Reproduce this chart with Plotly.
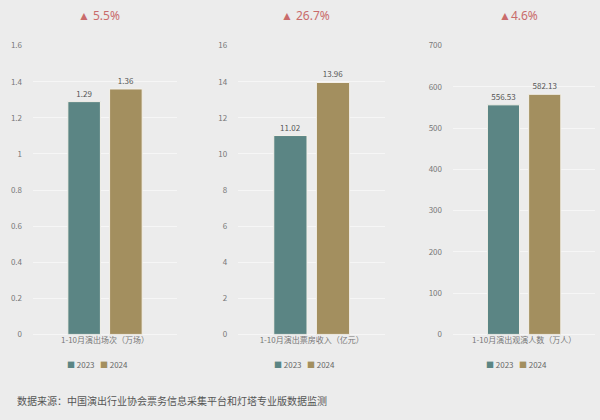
import plotly.graph_objects as go
from plotly.subplots import make_subplots

years = ["2023", "2024"]
categories = ["1-10月演出场次（万场）", "1-10月演出票房收入（亿元）", "1-10月演出观演人数（万人）"]
values_2023 = [1.29, 11.02, 556.53]
values_2024 = [1.36, 13.96, 582.13]
value_text_2023 = ["1.29", "11.02", "556.53"]
value_text_2024 = ["1.36", "13.96", "582.13"]
growth = ["▲ 5.5%", "▲ 26.7%", "▲4.6%"]
y_ranges = [[0, 1.6], [0, 16], [0, 700]]
y_dticks = [0.2, 2, 100]
source = "数据来源：中国演出行业协会票务信息采集平台和灯塔专业版数据监测"

colours = ["#5B8584", "#A38F5F"]
bg = "#ECECEC"
domains = [[0.055, 0.295], [0.397, 0.642], [0.755, 0.992]]

fig = make_subplots(rows=1, cols=3)

series = [(values_2023, value_text_2023), (values_2024, value_text_2024)]
for i, cat in enumerate(categories):
    for j, (vals, txt) in enumerate(series):
        fig.add_trace(
            go.Bar(x=[cat], y=[vals[i]], name=years[j], text=[txt[i]], textposition="outside",
                   marker=dict(color=colours[j], line=dict(color="#F4F1EA", width=1)),
                   textfont=dict(size=8, color="#555555"), cliponaxis=False,
                   showlegend=False),
            row=1, col=i + 1
        )
    sfx = "" if i == 0 else str(i + 1)
    fig.update_layout({
        f"xaxis{sfx}": dict(domain=domains[i], showgrid=False, showline=False,
                             tickfont=dict(size=8, color="#777777"), ticks=""),
        f"yaxis{sfx}": dict(domain=[0.197, 0.903], range=y_ranges[i], dtick=y_dticks[i],
                             showgrid=True, gridcolor="#F6F6F6", gridwidth=1,
                             zeroline=True, zerolinecolor="#F6F6F6", zerolinewidth=1,
                             tickfont=dict(size=8, color="#777777"), ticklabelstandoff=10),
    })
    mid = (domains[i][0] + domains[i][1]) / 2
    fig.add_annotation(text=growth[i], x=mid - 0.01, y=0.977, xref="paper", yref="paper",
                       xanchor="center", yanchor="middle", showarrow=False,
                       font=dict(size=12, color="#C96B6B", family="Noto Sans"))
    # legend drawn as text so the squares stay small like the original
    legend_txt = (f"<span style='color:{colours[0]}'>■</span> {years[0]}   "
                  f"<span style='color:{colours[1]}'>■</span> {years[1]}")
    fig.add_annotation(text=legend_txt, x=mid - 0.012, y=0.124, xref="paper", yref="paper",
                       xanchor="center", yanchor="middle", showarrow=False,
                       font=dict(size=8, color="#666666"))

fig.add_annotation(text=source, x=0.025, y=0.035, xref="paper", yref="paper",
                   xanchor="left", yanchor="middle", showarrow=False,
                   font=dict(size=10, color="#555555", family="Noto Sans CJK SC"))

fig.update_layout(
    width=600, height=420,
    margin=dict(l=0, r=0, t=0, b=0),
    paper_bgcolor=bg, plot_bgcolor=bg,
    barmode="group", bargap=0.42, bargroupgap=0.22,
    font=dict(family="Noto Sans CJK SC"),
)

fig.write_html("out.html", config={"displayModeBar": False},
               post_script="document.body.style.margin='0';")
